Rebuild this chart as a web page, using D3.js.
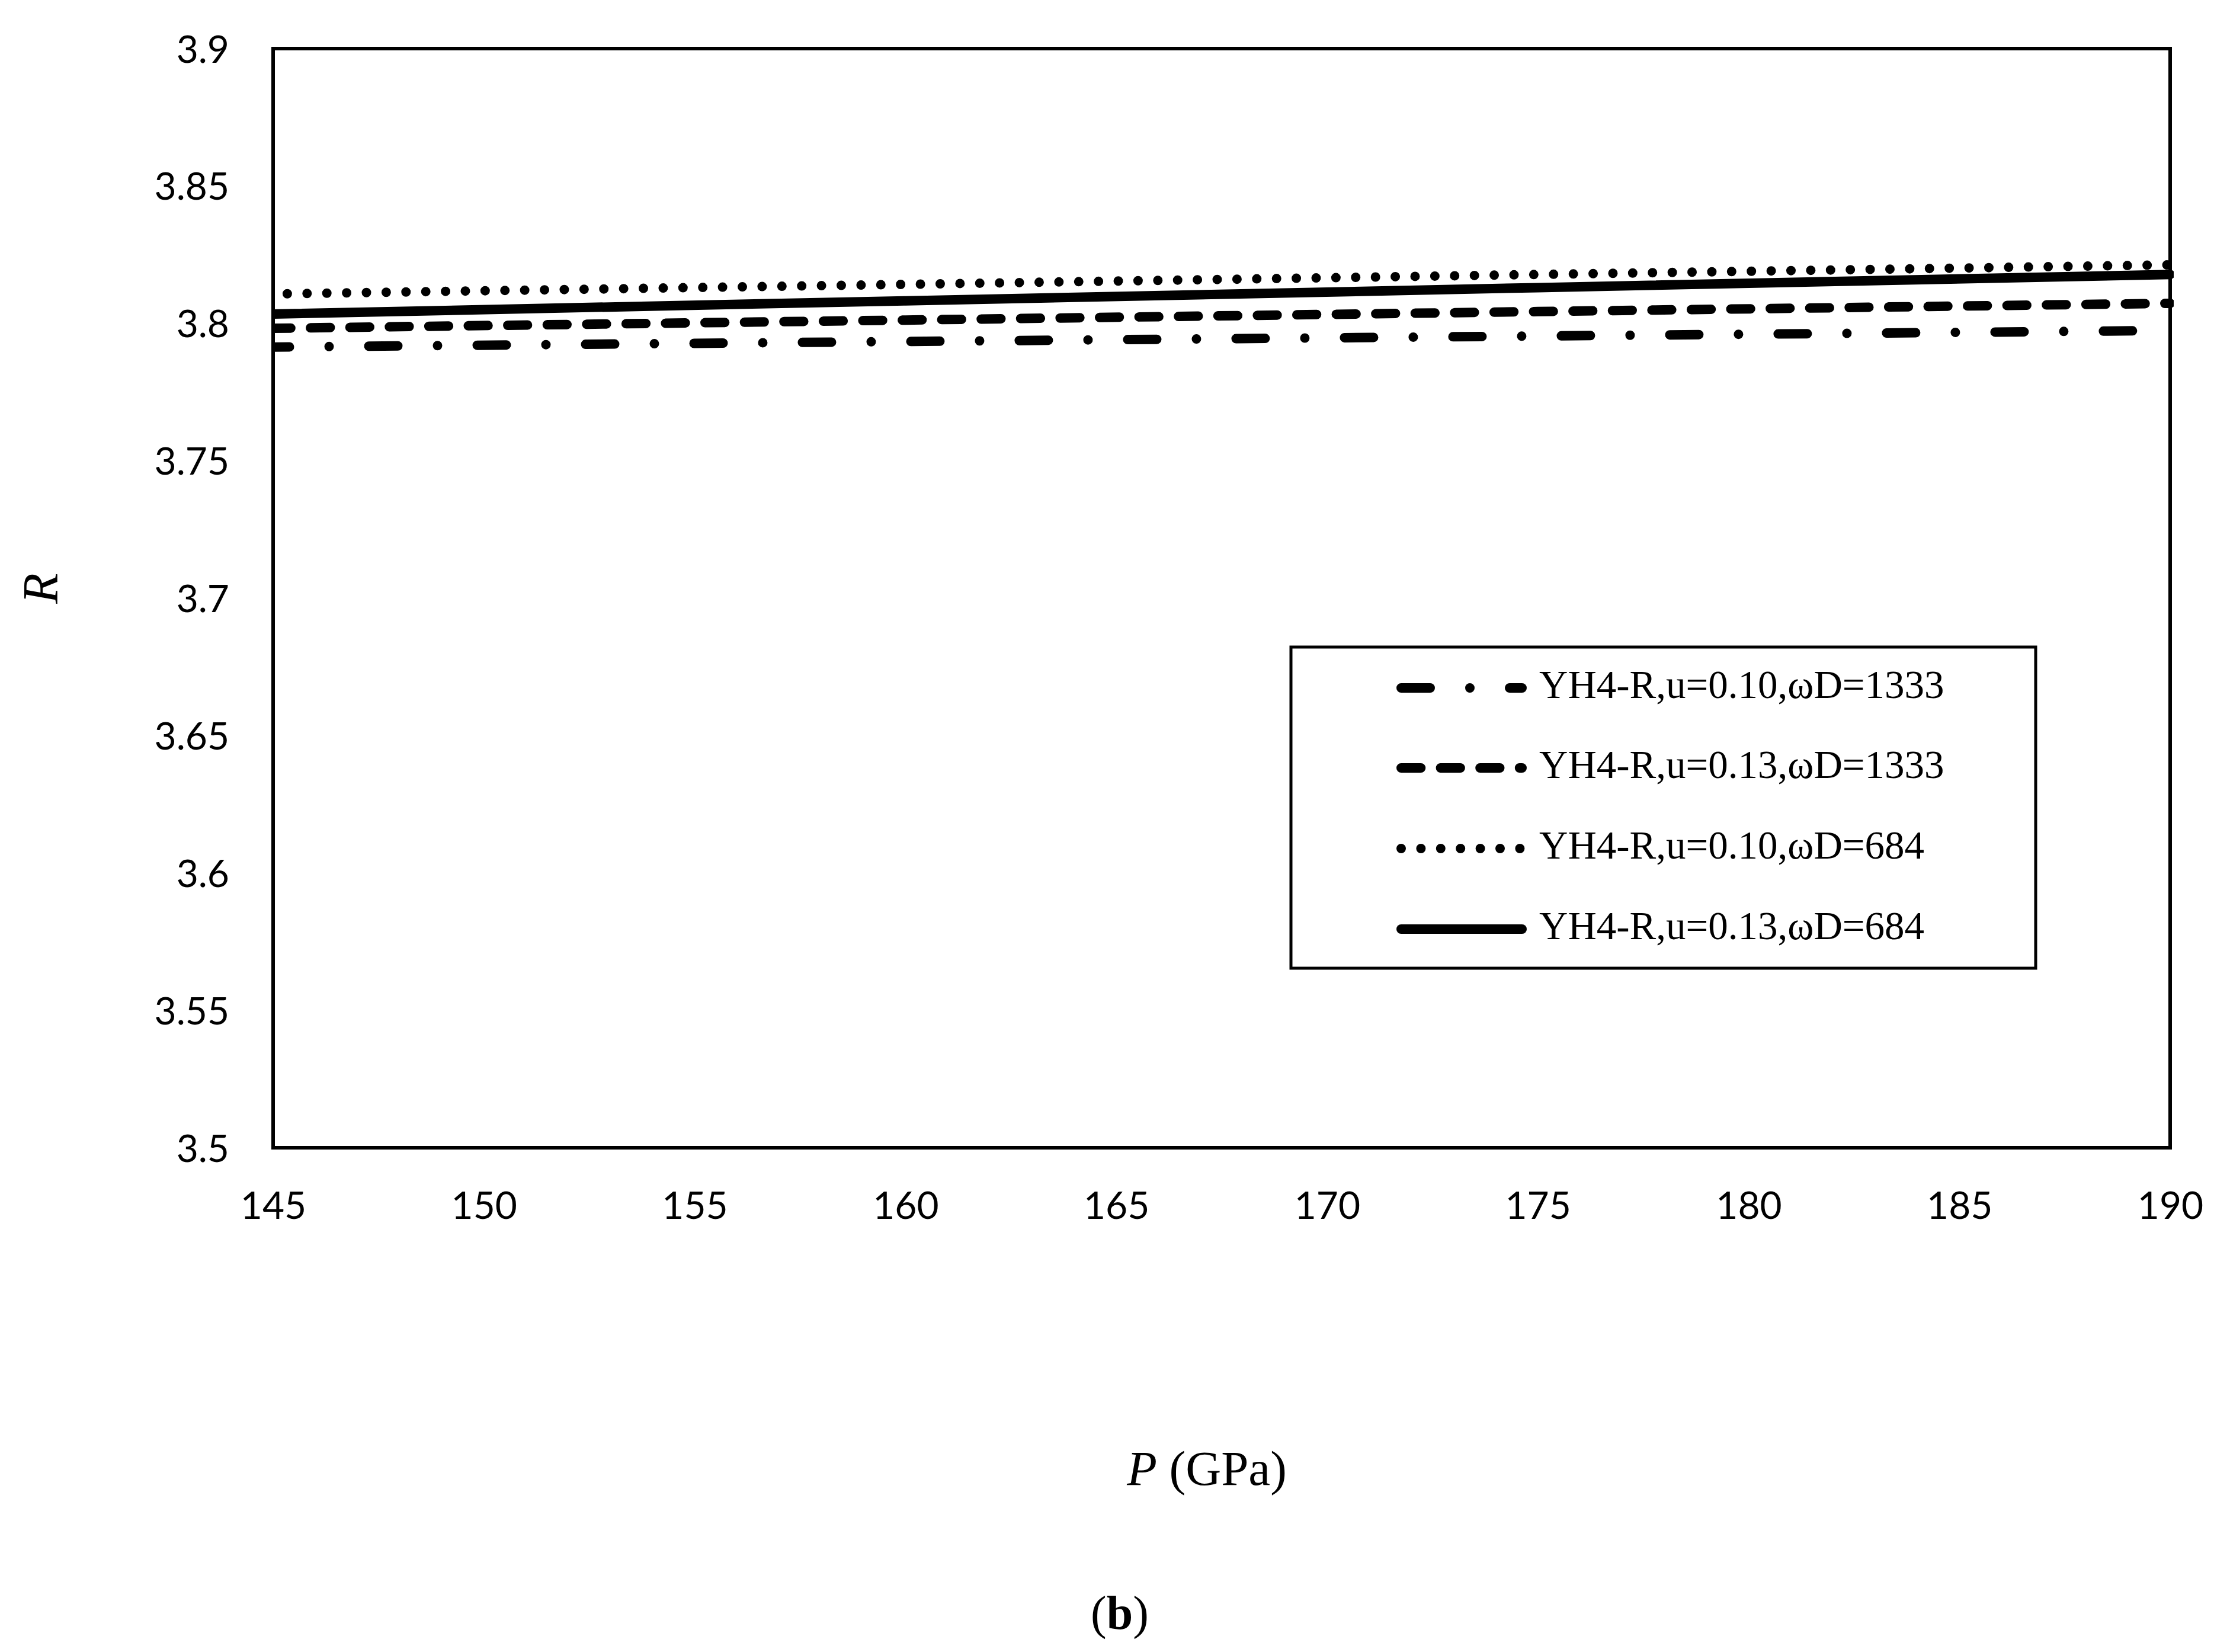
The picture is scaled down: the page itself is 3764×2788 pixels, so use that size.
<!DOCTYPE html>
<html>
<head>
<meta charset="utf-8">
<script src="https://cdn.jsdelivr.net/npm/d3@7"></script>
<style>
  html, body { margin: 0; padding: 0; background: #fff; }
  svg { display: block; }
</style>
</head>
<body>
<script>
// ---- Data ----
const pressure = [145, 160, 175, 190];               // P (GPa)
const seriesNames = [
  "YH4-R,u=0.10,\u03C9D=1333",
  "YH4-R,u=0.13,\u03C9D=1333",
  "YH4-R,u=0.10,\u03C9D=684",
  "YH4-R,u=0.13,\u03C9D=684"
];
const r_u010_w1333 = [3.7914, 3.7934, 3.7954, 3.7974];
const r_u013_w1333 = [3.7982, 3.8012, 3.8043, 3.8073];
const r_u010_w684  = [3.8107, 3.8142, 3.8178, 3.8213];
const r_u013_w684  = [3.8034, 3.8082, 3.8130, 3.8178];
const xTickValues = [145, 150, 155, 160, 165, 170, 175, 180, 185, 190];
const yTickValues = [3.5, 3.55, 3.6, 3.65, 3.7, 3.75, 3.8, 3.85, 3.9];
const yTickLabels = ["3.5", "3.55", "3.6", "3.65", "3.7", "3.75", "3.8", "3.85", "3.9"];

// ---- Layout ----
const W = 3764, H = 2788;
const plot = { left: 461, right: 3663, top: 82, bottom: 1937 };

const svg = d3.select("body").append("svg")
  .attr("width", W).attr("height", H)
  .attr("viewBox", `0 0 ${W} ${H}`);

svg.append("rect").attr("width", W).attr("height", H).attr("fill", "#fff");

const x = d3.scaleLinear().domain([145, 190]).range([plot.left, plot.right]);
const y = d3.scaleLinear().domain([3.5, 3.9]).range([plot.bottom, plot.top]);

const tickFont = "Lato, 'Open Sans', sans-serif";
const serif = "'Liberation Serif', 'DejaVu Serif', serif";

// axes (labels only)
const yAxis = d3.axisLeft(y).tickValues(yTickValues)
  .tickFormat((d, i) => yTickLabels[i]).tickSize(0).tickPadding(74);
const gy = svg.append("g").attr("transform", `translate(${plot.left},0)`).call(yAxis);
gy.select(".domain").remove();
gy.selectAll("text").attr("font-family", tickFont).attr("font-size", 64)
  .attr("fill", "#000").attr("dy", "0.36em");

const xAxis = d3.axisBottom(x).tickValues(xTickValues)
  .tickFormat(d3.format("d")).tickSize(0).tickPadding(75);
const gx = svg.append("g").attr("transform", `translate(0,${plot.bottom})`).call(xAxis);
gx.select(".domain").remove();
gx.selectAll("text").attr("font-family", tickFont).attr("font-size", 64).attr("fill", "#000");

// clip
svg.append("clipPath").attr("id", "clip")
  .append("rect").attr("x", plot.left).attr("y", plot.top)
  .attr("width", plot.right - plot.left + 6).attr("height", plot.bottom - plot.top);

const styles = [
  { data: r_u010_w1333, dash: "49,67,0,67", offset: 21.5 },
  { data: r_u013_w1333, dash: "33.3,33.3", offset: 3.5 },
  { data: r_u010_w684,  dash: "0,33.4",    offset: 9.5 },
  { data: r_u013_w684,  dash: null,        offset: 0 }
];

const line = d3.line().x(d => x(d[0])).y(d => y(d[1]));

const gLines = svg.append("g").attr("clip-path", "url(#clip)");
styles.forEach(s => {
  const pts = pressure.map((p, i) => [p, s.data[i]]);
  const path = gLines.append("path").datum(pts)
    .attr("d", line)
    .attr("fill", "none").attr("stroke", "#000")
    .attr("stroke-width", 16).attr("stroke-linecap", "round").attr("stroke-linejoin", "round");
  if (s.dash) path.attr("stroke-dasharray", s.dash).attr("stroke-dashoffset", s.offset);
});

// plot frame
svg.append("rect")
  .attr("x", plot.left).attr("y", plot.top)
  .attr("width", plot.right - plot.left).attr("height", plot.bottom - plot.top)
  .attr("fill", "none").attr("stroke", "#000").attr("stroke-width", 6);

// legend
const leg = { x: 2179, y: 1092, w: 3436 - 2179, h: 1634 - 1092 };
svg.append("rect").attr("x", leg.x).attr("y", leg.y).attr("width", leg.w).attr("height", leg.h)
  .attr("fill", "#fff").attr("stroke", "#000").attr("stroke-width", 5);

const legendRows = [1161, 1296, 1432, 1568];
styles.forEach((s, i) => {
  const ly = legendRows[i];
  const p = svg.append("line")
    .attr("x1", 2365).attr("x2", 2569).attr("y1", ly).attr("y2", ly)
    .attr("stroke", "#000").attr("stroke-width", 16).attr("stroke-linecap", "round");
  if (s.dash) p.attr("stroke-dasharray", s.dash);
  svg.append("text").attr("x", 2598).attr("y", ly + 17)
    .attr("font-family", serif).attr("font-size", 67).attr("fill", "#000")
    .text(seriesNames[i]);
});

// axis titles
svg.append("text")
  .attr("transform", "translate(97,993) rotate(-90)")
  .attr("text-anchor", "middle")
  .attr("font-family", serif).attr("font-size", 84).attr("font-style", "italic")
  .text("R");

const xt = svg.append("text").attr("x", 2037).attr("y", 2506).attr("text-anchor", "middle")
  .attr("font-family", serif).attr("font-size", 83);
xt.append("tspan").attr("font-style", "italic").text("P");
xt.append("tspan").text(" (GPa)");

const cap = svg.append("text").attr("x", 1890).attr("y", 2749).attr("text-anchor", "middle")
  .attr("font-family", serif).attr("font-size", 80);
cap.append("tspan").text("(");
cap.append("tspan").attr("font-weight", "bold").text("b");
cap.append("tspan").text(")");
</script>
</body>
</html>
